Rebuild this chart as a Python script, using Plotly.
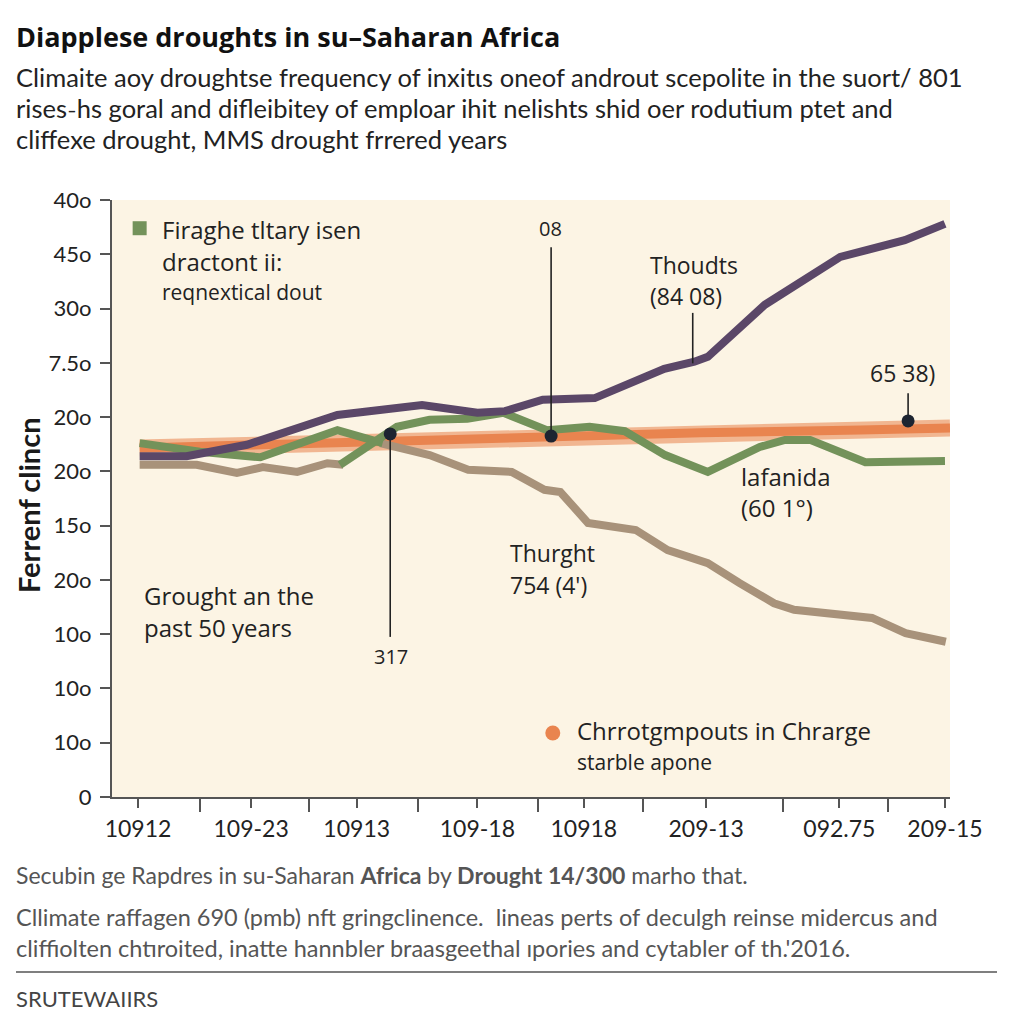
import plotly.graph_objects as go

# ---------------- data ----------------
# x positions are on a 0-100 time index, y values on the 0-11 index of the tick list
purple_x = [3.3, 8.9, 16.1, 26.9, 37.0, 43.6, 46.9, 51.4, 57.6, 65.9, 69.5, 71.1, 77.9, 86.9, 94.6, 99.4]
purple_y = [6.28, 6.28, 6.49, 7.04, 7.22, 7.08, 7.11, 7.32, 7.35, 7.89, 8.02, 8.11, 9.07, 9.95, 10.26, 10.56]

green_x = [3.3, 10.5, 17.7, 26.9, 32.3, None,
           27.2, 34.0, 37.9, 42.4, 46.7, 51.9, 57.0, 61.2, 66.0, 71.1, 77.3, 80.3, 83.3, 89.9, 99.4]
green_y = [6.52, 6.36, 6.26, 6.76, 6.52, None,
           6.12, 6.82, 6.95, 6.97, 7.08, 6.76, 6.82, 6.74, 6.30, 5.99, 6.45, 6.58, 6.58, 6.17, 6.19]

tan_x = [3.3, 10.1, 14.9, 18.0, 22.1, 25.7, 27.6, None,
         32.0, 37.9, 42.5, 47.7, 51.6, 53.5, 56.8, 62.5, 66.3, 71.1, 74.9, 79.0, 81.4, 90.7, 94.7, 99.5]
tan_y = [6.12, 6.12, 5.97, 6.08, 5.99, 6.15, 6.12, None,
         6.52, 6.30, 6.03, 5.99, 5.66, 5.62, 5.05, 4.92, 4.55, 4.31, 3.94, 3.57, 3.45, 3.30, 3.02, 2.86]

orange_x = [3.3, 32.3, 52.3, 70.2, 89.3, 100.0]
orange_y = [6.43, 6.56, 6.63, 6.71, 6.76, 6.80]

# callout markers (x, y) and leader line ends
callout_x = [33.2, 52.4, 95.0]
callout_y = [6.69, 6.65, 6.93]
leader_end_y = [2.95, 10.13, 7.44]
thoudts_x = 69.3
thoudts_leader = [8.92, 7.99]

y_tick_vals = list(range(12))
y_tick_text = ["0", "10o", "10o", "10o", "20o", "15o", "20o", "20o", "7.5o", "30o", "45o", "40o"]

x_major_vals = [3.1, 16.6, 29.2, 43.6, 56.3, 70.9, 86.8, 99.4]
x_major_text = ["10912", "109-23", "10913", "109-18", "10918", "209-13", "092.75", "209-15"]
x_minor_vals = [10.5, 23.5, 36.5, 50.8, 63.4, 80.1, 92.6]

# ---------------- styling ----------------
# page is drawn inside an 8px body margin -> figure 1016 px, coordinates below are page coords
W, H = 1016, 1016
OFF = 8
L, R, T, B = 112, 950, 200, 797          # plot area in page pixels
PURPLE = "#5b4768"
GREEN = "#73925a"
TAN = "#a8927a"
ORANGE = "#e9844f"
ORANGE_LIGHT = "#f1b691"
DOT = "#1d2431"
CREAM = "#fcf4e4"
FONT = "Lato"
AFONT = "Open Sans"


def px(x):
    return (x - L) / (R - L)


def py(y):
    return (B - y) / (B - T)


fig = go.Figure()

fig.add_trace(go.Scatter(x=orange_x, y=orange_y, mode="lines",
                         line=dict(color=ORANGE_LIGHT, width=17), hoverinfo="skip"))
fig.add_trace(go.Scatter(x=orange_x, y=orange_y, mode="lines",
                         line=dict(color=ORANGE, width=9), hoverinfo="skip"))
fig.add_trace(go.Scatter(x=tan_x, y=tan_y, mode="lines",
                         line=dict(color=TAN, width=8), connectgaps=False))
fig.add_trace(go.Scatter(x=green_x, y=green_y, mode="lines",
                         line=dict(color=GREEN, width=8), connectgaps=False))
fig.add_trace(go.Scatter(x=purple_x, y=purple_y, mode="lines",
                         line=dict(color=PURPLE, width=8)))

# leader lines
for cx, cy, ey in zip(callout_x, callout_y, leader_end_y):
    fig.add_trace(go.Scatter(x=[cx, cx], y=[cy, ey], mode="lines",
                             line=dict(color="#222222", width=1.6), hoverinfo="skip"))
fig.add_trace(go.Scatter(x=[thoudts_x, thoudts_x], y=thoudts_leader, mode="lines",
                         line=dict(color="#222222", width=1.6), hoverinfo="skip"))
fig.add_trace(go.Scatter(x=callout_x, y=callout_y, mode="markers",
                         marker=dict(color=DOT, size=13)))

# legend-like markers
fig.add_trace(go.Scatter(x=[3.3], y=[10.48], mode="markers",
                         marker=dict(symbol="square", color=GREEN, size=14)))
fig.add_trace(go.Scatter(x=[52.6], y=[1.18], mode="markers",
                         marker=dict(color=ORANGE, size=15)))

ann = []


def text(x, y, s, size=24, color="#222222", xanchor="left", xref="x", yref="y", **kw):
    ann.append(dict(x=x, y=y, text=s, xref=xref, yref=yref, showarrow=False,
                    xanchor=xanchor, yanchor="middle",
                    font=dict(family=kw.pop("family", AFONT), size=size, color=color,
                              weight=kw.pop("weight", "normal")), **kw))


# in-plot texts
text(5.7, 10.45, "Firaghe tltary isen", 24)
text(5.7, 9.86, "dractont ii:", 24)
text(5.7, 9.31, "reqnextical dout", 21)
text(52.3, 10.47, "08", 20, xanchor="center")
text(33.3, 2.58, "317", 20, xanchor="center")
text(64.0, 9.80, "Thoudts", 23)
text(64.0, 9.23, "(84 08)", 23)
text(94.3, 7.81, "65 38)", 23, xanchor="center")
text(74.8, 5.91, "lafanida", 24)
text(74.8, 5.33, "(60 1°)", 24)
text(47.3, 4.50, "Thurght", 23)
text(47.3, 3.91, "754 (4')", 23)
text(3.6, 3.72, "Grought an the", 24)
text(3.6, 3.13, "past 50 years", 24)
text(55.3, 1.22, "Chrrotgmpouts in Chrarge", 24)
text(55.3, 0.64, "starble apone", 21)

# y-axis title
text(px(28), py(505), "Ferrenf clincn", 29, color="#1a1a1a", xanchor="center",
     xref="paper", yref="paper", textangle=-90, weight="bold", family=FONT)

# title & subtitle
text(px(14), py(36), "Diapplese droughts in su\u2013Saharan Africa", 27, color="#111111",
     xref="paper", yref="paper", family="Open Sans", weight="bold")
sub = ["Climaite aoy droughtse frequency of inxitɩs oneof androut scepolite in the suort/ 801",
       "rises\u02d7hs goral and difleibitey of emploar ihit nelishts shid oer rodutium ptet and",
       "cliffexe drought, MMS drought frrered years"]
for i, s in enumerate(sub):
    text(px(14), py(77 + 31 * i), s, 25.5, color="#222222", xref="paper", yref="paper",
         family=FONT)

# footer
text(px(14), py(875),
     "Secubin ge Rapdres in su-Saharan <b>Africa</b> by <b>Drought 14/300</b> marho that.",
     23, color="#555555", xref="paper", yref="paper", family=FONT)
text(px(14), py(917),
     "Cllimate raffagen 690 (pmb) nft gringclinence.  lineas perts of deculgh reinse midercus and",
     23.5, color="#555555", xref="paper", yref="paper", family=FONT)
text(px(14), py(948),
     "cliffiolten chtıroited, inatte hannbler braasgeethal ıpories and cytabler of th.'2016.",
     23.5, color="#555555", xref="paper", yref="paper", family=FONT)
text(px(14), py(998), "SRUTEWAIIRS", 22, color="#444444", xref="paper", yref="paper",
     family=FONT)

fig.update_layout(
    width=W, height=H,
    margin=dict(l=L - OFF, r=W - (R - OFF), t=T - OFF, b=H - (B - OFF), pad=0),
    paper_bgcolor="white",
    plot_bgcolor=CREAM,
    showlegend=False,
    annotations=ann,
    shapes=[dict(type="line", xref="paper", yref="paper",
                 x0=px(16), x1=px(997), y0=py(972), y1=py(972),
                 line=dict(color="#555555", width=1.5)),
            dict(type="line", xref="paper", yref="paper",
                 x0=px(102), x1=0, y0=0, y1=0,
                 line=dict(color="#555555", width=2))],
    font=dict(family=FONT, color="#222222"),
)

fig.update_xaxes(range=[0, 100], showgrid=False, zeroline=False,
                 showline=True, linecolor="#555555", linewidth=2,
                 tickmode="array", tickvals=x_major_vals, ticktext=x_major_text,
                 ticks="outside", ticklen=9, tickwidth=1.6, tickcolor="#555555",
                 ticklabelstandoff=1,
                 minor=dict(tickmode="array", tickvals=x_minor_vals, ticks="outside",
                            ticklen=13, tickwidth=1.6, tickcolor="#555555", showgrid=False),
                 tickfont=dict(family=FONT, size=23, color="#222222"))
fig.update_yaxes(range=[0, 11], showgrid=False, zeroline=False,
                 showline=True, linecolor="#555555", linewidth=2,
                 tickmode="array", tickvals=y_tick_vals, ticktext=y_tick_text,
                 ticks="outside", ticklen=10, tickwidth=1.6, tickcolor="#555555",
                 ticklabelstandoff=4,
                 tickfont=dict(family=FONT, size=22, color="#222222"))

fig.write_html("out.html")
